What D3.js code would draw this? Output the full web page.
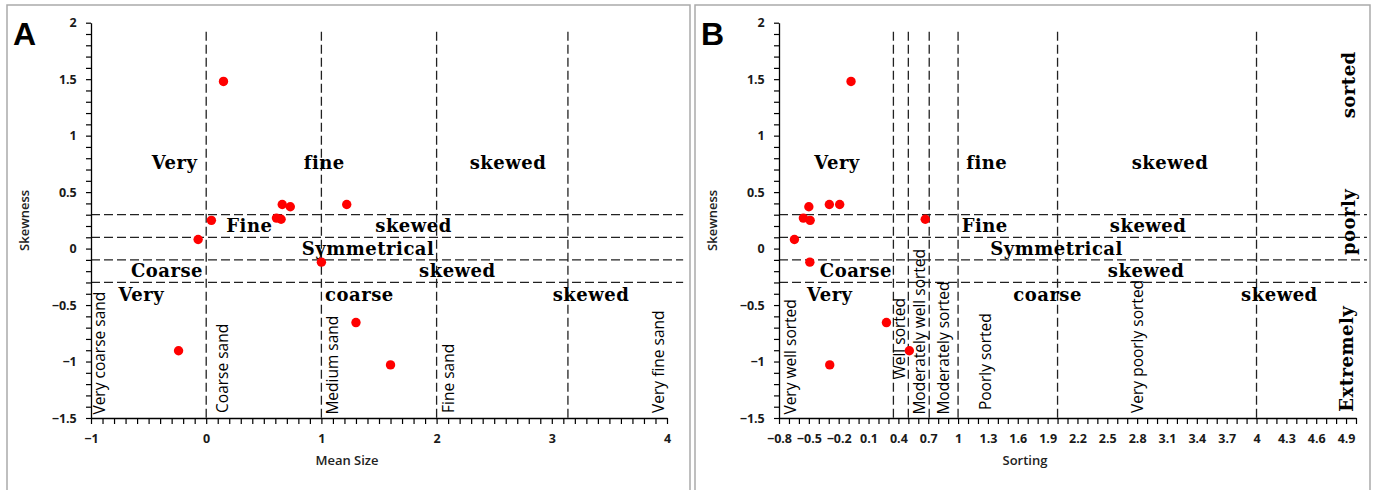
<!DOCTYPE html>
<html><head><meta charset="utf-8">
<script src="https://cdn.jsdelivr.net/npm/d3@7"></script>
<style>
html,body{margin:0;padding:0;background:#fff;}
svg{display:block;}
</style></head>
<body>
<svg id="chart" width="1382" height="490"></svg>
<script>
// ---------- data ----------
const skewness = [1.48, 0.25, 0.08, 0.27, 0.26, 0.39, 0.37, 0.39, -0.12, -0.905, -0.655, -1.03];
const meanSize = [0.15, 0.045, -0.07, 0.61, 0.65, 0.66, 0.73, 1.22, 1.0, -0.24, 1.30, 1.60];
const sorting  = [-0.076, -0.487, -0.645, -0.555, 0.67, -0.294, -0.50, -0.19, -0.49, 0.51, 0.28, -0.29];

const yTicks = [-1.5, -1, -0.5, 0, 0.5, 1, 1.5, 2];
const aXTicks = [-1, 0, 1, 2, 3, 4];
const bXTicks = [-0.8, -0.5, -0.2, 0.1, 0.4, 0.7, 1, 1.3, 1.6, 1.9, 2.2, 2.5, 2.8, 3.1, 3.4, 3.7, 4, 4.3, 4.6, 4.9];

const skewClassBounds = [0.3, 0.1, -0.1, -0.3];
const aSizeBounds = [0, 1, 2, 3.14];
const bSortBounds = [0.35, 0.5, 0.71, 1, 2, 4];

const aSkewLabels = [
  {t:"Very", x:-0.275, y:0.76}, {t:"fine", x:1.025, y:0.76}, {t:"skewed", x:2.62, y:0.76},
  {t:"Fine", x:0.375, y:0.2}, {t:"skewed", x:1.80, y:0.2},
  {t:"Symmetrical", x:1.405, y:0.0},
  {t:"Coarse", x:-0.34, y:-0.2}, {t:"skewed", x:2.18, y:-0.2},
  {t:"Very", x:-0.563, y:-0.41}, {t:"coarse", x:1.33, y:-0.41}, {t:"skewed", x:3.34, y:-0.41}
];
const bSkewLabels = [
  {t:"Very", x:-0.217, y:0.76}, {t:"fine", x:1.288, y:0.76}, {t:"skewed", x:3.13, y:0.76},
  {t:"Fine", x:1.268, y:0.2}, {t:"skewed", x:2.91, y:0.2},
  {t:"Symmetrical", x:1.99, y:0.0},
  {t:"Coarse", x:-0.027, y:-0.2}, {t:"skewed", x:2.89, y:-0.2},
  {t:"Very", x:-0.29, y:-0.41}, {t:"coarse", x:1.90, y:-0.41}, {t:"skewed", x:4.23, y:-0.41}
];
const bSideLabels = [
  {t:"sorted", x:4.93, y:1.45}, {t:"poorly", x:4.93, y:0.236}, {t:"Extremely", x:4.91, y:-0.976}
];
const aClassLabels = [
  {t:"Very coarse sand", x:-0.925, y:-1.47}, {t:"Coarse sand", x:0.14, y:-1.455},
  {t:"Medium sand", x:1.094, y:-1.47}, {t:"Fine sand", x:2.1, y:-1.455},
  {t:"Very fine sand", x:3.93, y:-1.455}
];
const bClassLabels = [
  {t:"Very well sorted", x:-0.688, y:-1.47}, {t:"Well sorted", x:0.415, y:-1.16},
  {t:"Moderately well sorted", x:0.616, y:-1.47}, {t:"Moderately sorted", x:0.85, y:-1.47},
  {t:"Poorly sorted", x:1.278, y:-1.43}, {t:"Very poorly sorted", x:2.80, y:-1.455}
];

// ---------- drawing ----------
const svg = d3.select("#chart");
const tickFont = "'Open Sans', sans-serif";
const serif = "'DejaVu Serif', serif";

function panel(cfg){
  const g = svg.append("g");
  g.append("rect").attr("x", cfg.bx).attr("y", 5).attr("width", cfg.bw).attr("height", 500)
    .attr("fill", "none").attr("stroke", "#aaa").attr("stroke-width", 1.5);
  const x = d3.scaleLinear().domain(cfg.xDomain).range([cfg.x0, cfg.x1]);
  const y = d3.scaleLinear().domain([-1.5, 2]).range([418, 22.7]);

  g.selectAll(".vl").data(cfg.vBounds).enter().append("line")
    .attr("x1", d=>x(d)).attr("x2", d=>x(d)).attr("y1", y(1.92)).attr("y2", y(-1.5))
    .attr("stroke", "#222").attr("stroke-width", 1.3).attr("stroke-dasharray", "9,4");
  g.selectAll(".hl").data(skewClassBounds).enter().append("line")
    .attr("x1", x(cfg.xDomain[0])).attr("x2", x(cfg.hEnd)).attr("y1", d=>y(d)).attr("y2", d=>y(d))
    .attr("stroke", "#222").attr("stroke-width", 1.3).attr("stroke-dasharray", "9,4");

  const minorX = d3.range(Math.round(cfg.xDomain[0]*10), Math.round(cfg.xDomain[1]*10)+1).map(v=>v/10);
  const majorX = new Set(cfg.xTicks.map(v=>Math.round(v*10)));
  const xAxis = d3.axisBottom(x).tickValues(minorX).tickSize(6).tickSizeOuter(0)
    .tickFormat(d => majorX.has(Math.round(d*10)) ? d3.format("")(+d.toFixed(1)) : "");
  const gx = g.append("g").attr("transform", `translate(0,${y(-1.5)})`).call(xAxis);
  const minorY = d3.range(-15, 21).map(v=>v/10);
  const majorY = new Set(yTicks.map(v=>Math.round(v*10)));
  const yAxis = d3.axisLeft(y).tickValues(minorY).tickSize(5).tickSizeOuter(0)
    .tickFormat(d => majorY.has(Math.round(d*10)) ? d3.format("")(+d.toFixed(1)) : "");
  const gy = g.append("g").attr("transform", `translate(${cfg.x0},0)`).call(yAxis);
  [gx, gy].forEach(a => {
    a.select(".domain").attr("stroke", "#000").attr("stroke-width", 1.3);
    a.selectAll(".tick line").attr("stroke", "#000").attr("stroke-width", 1.2);
    a.selectAll(".tick text").attr("font-family", tickFont).attr("font-size", 12.5)
      .attr("font-weight", 700).attr("fill", "#1a1a1a");
  });
  gx.selectAll(".tick text").attr("dy", "1.3em");
  gy.selectAll(".tick text").attr("dx", "-0.5em");

  g.selectAll(".sl").data(cfg.skewLabels).enter().append("text")
    .attr("x", d=>x(d.x)).attr("y", d=>y(d.y)).attr("dy", "0.35em")
    .attr("text-anchor", "middle").attr("font-family", serif).attr("font-weight", "bold")
    .attr("font-size", 18).attr("letter-spacing", 0.5).attr("fill", "#000").text(d=>d.t);
  if (cfg.sideLabels) {
    g.selectAll(".sd").data(cfg.sideLabels).enter().append("text")
      .attr("transform", d=>`translate(${x(d.x)},${y(d.y)}) rotate(-90)`).attr("dy", "0.35em")
      .attr("text-anchor", "middle").attr("font-family", serif).attr("font-weight", "bold")
      .attr("font-size", 18).attr("letter-spacing", 0.5).attr("fill", "#000").text(d=>d.t);
  }
  g.selectAll(".cl").data(cfg.classLabels).enter().append("text")
    .attr("transform", d=>`translate(${x(d.x)},${y(d.y)}) rotate(-90)`).attr("dy", "0.35em")
    .attr("text-anchor", "start").attr("font-family", tickFont).attr("font-weight", 500)
    .attr("font-size", 15.5).attr("fill", "#000").text(d=>d.t);

  g.selectAll(".pt").data(cfg.xs).enter().append("circle")
    .attr("cx", d=>x(d)).attr("cy", (d,i)=>y(skewness[i])).attr("r", 4.7).attr("fill", "#ff0000");

  g.append("text").attr("x", cfg.xTitleX).attr("y", 465).attr("text-anchor", "middle")
    .attr("font-family", tickFont).attr("font-size", 13).attr("font-weight", 600)
    .attr("fill", "#222").text(cfg.xTitle);
  g.append("text").attr("transform", `translate(${cfg.x0-62},${y(0.25)}) rotate(-90)`)
    .attr("text-anchor", "middle").attr("font-family", tickFont).attr("font-size", 13)
    .attr("font-weight", 600).attr("fill", "#222").text("Skewness");
  g.append("text").attr("x", cfg.bx+6).attr("y", 45).attr("font-family", "'Liberation Sans', Arial, sans-serif")
    .attr("font-weight", "bold").attr("font-size", 32).attr("fill", "#000").text(cfg.letter);
}

panel({bx:7, bw:683, x0:91, x1:667, xDomain:[-1,4], xTicks:aXTicks, hEnd:4.14,
  vBounds:aSizeBounds, skewLabels:aSkewLabels, classLabels:aClassLabels, xs:meanSize,
  xTitle:"Mean Size", xTitleX:347, letter:"A"});
panel({bx:695, bw:675, x0:779, x1:1356, xDomain:[-0.8,5.0], xTicks:bXTicks, hEnd:5.11,
  vBounds:bSortBounds, skewLabels:bSkewLabels, sideLabels:bSideLabels, classLabels:bClassLabels, xs:sorting,
  xTitle:"Sorting", xTitleX:1025, letter:"B"});
</script>
</body></html>
